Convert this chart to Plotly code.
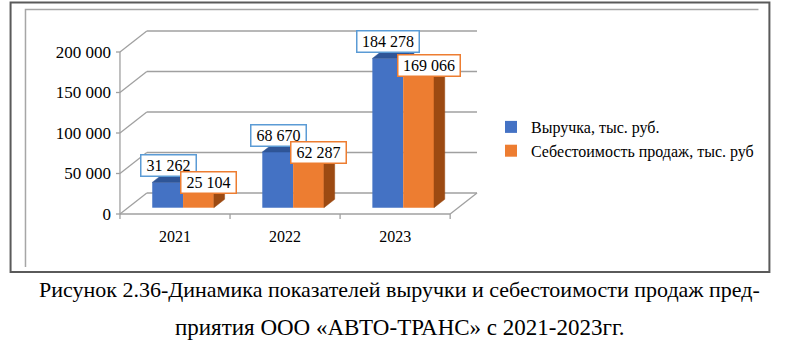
import plotly.graph_objects as go

# ---------------- data ----------------
categories = ["2021", "2022", "2023"]
revenue = [31262, 68670, 184278]
cost = [25104, 62287, 169066]
series_names = ["Выручка, тыс. руб.", "Себестоимость продаж, тыс. руб"]
y_ticks = [0, 50000, 100000, 150000, 200000]
caption_lines = [
    "Рисунок 2.36-Динамика показателей выручки и себестоимости продаж пред-",
    "приятия ООО «АВТО-ТРАНС» с 2021-2023гг.",
]

# ---------------- geometry / style ----------------
W, H = 800, 352
FONT = "'Liberation Serif', 'Times New Roman', Times, serif"
n = len(categories)
YMAX = y_ticks[-1]
UX = 3 / 332.0            # data units per pixel along x (front plane)
UY = YMAX / 162.0         # data units per pixel along y
DX = 27 * UX              # depth offset of back wall (x)
DY = 21 * UY              # depth offset of back wall (y)
F0, F1 = 0.30, 0.70       # bar depth (front, back) as fraction of wall depth
BW = 0.28                 # single bar width in category units

PADL, PADR, PADT, PADB = 6, 2, 2, 7
L = 120 - PADL
R = W - (479 + PADR)
T = 31 - PADT
B = H - (214 + PADB)
PW = W - L - R
PH = H - T - B

FRONT = ["#4472C4", "#ED7D31"]
TOP = ["#2F5597", "#D0661E"]
SIDE = ["#2F5597", "#9C4A12"]
LABEL_BORDER = ["#5B9BD5", "#ED7D31"]
LABEL_SHIFT = [(0.5, 5), (10, -6.5)]
GRID = "#A0A0A0"
CAPTION_SIZE = [22, 23]
CAPTION_Y = [289, 327]


def pxx(px):
    return (px - L) / PW


def pxy(py):
    return (H - B - py) / PH


series = [revenue, cost]
xc = [i + F0 * DX for i in range(n)]
base = F0 * DY
ddx, ddy = (F1 - F0) * DX, (F1 - F0) * DY

fig = go.Figure()

# front faces (bars)
for k, (vals, name) in enumerate(zip(series, series_names)):
    fig.add_trace(go.Bar(
        x=xc, y=vals, base=base, name=name, offsetgroup=str(k),
        marker=dict(color=FRONT[k], line=dict(width=0)),
        hovertemplate="%{x}: %{y}<extra></extra>",
    ))

# side and top faces, computed from the values
for k, vals in enumerate(series):
    tx, ty, sx, sy = [], [], [], []
    for i, v in enumerate(vals):
        xl = xc[i] - BW + k * BW
        xr = xl + BW
        yt = base + v
        tx += [xl, xr, xr + ddx, xl + ddx, xl, None]
        ty += [yt, yt, yt + ddy, yt + ddy, yt, None]
        if k < len(series) - 1:
            ylow = base + min(series[k + 1][i], v)
        else:
            ylow = base
        sx += [xr, xr + ddx, xr + ddx, xr, xr, None]
        sy += [ylow, ylow + ddy, yt + ddy, yt, ylow, None]
    fig.add_trace(go.Scatter(x=sx, y=sy, mode="lines", fill="toself",
                             fillcolor=SIDE[k], line=dict(width=0.5, color=SIDE[k]),
                             showlegend=False, hoverinfo="skip"))
    fig.add_trace(go.Scatter(x=tx, y=ty, mode="lines", fill="toself",
                             fillcolor=TOP[k], line=dict(width=0.5, color=TOP[k]),
                             showlegend=False, hoverinfo="skip"))

# walls, grid, floor, axis lines and ticks (drawn below the bars)
shapes = []
x0, x1 = -0.5, n - 0.5
for t in y_ticks:
    shapes.append(dict(type="line", xref="x", yref="y", layer="below",
                       x0=x0 + DX, y0=t + DY, x1=x1 + DX, y1=t + DY,
                       line=dict(color=GRID, width=1.3)))
    shapes.append(dict(type="line", xref="x", yref="y", layer="below",
                       x0=x0, y0=t, x1=x0 + DX, y1=t + DY,
                       line=dict(color=GRID, width=1.3)))
    shapes.append(dict(type="line", xref="x", yref="y", layer="below",
                       x0=x0 - 4 * UX, y0=t, x1=x0, y1=t,
                       line=dict(color=GRID, width=1.3)))
shapes.append(dict(type="line", xref="x", yref="y", layer="below",
                   x0=x0, y0=0, x1=x1, y1=0, line=dict(color=GRID, width=1.3)))
shapes.append(dict(type="line", xref="x", yref="y", layer="below",
                   x0=x1, y0=0, x1=x1 + DX, y1=DY, line=dict(color=GRID, width=1.3)))
shapes.append(dict(type="line", xref="x", yref="y", layer="below",
                   x0=x0, y0=0, x1=x0, y1=YMAX, line=dict(color=GRID, width=1.3)))
for i in range(n + 1):
    xb = i - 0.5
    shapes.append(dict(type="line", xref="x", yref="y", layer="below",
                       x0=xb, y0=0, x1=xb, y1=-5 * UY, line=dict(color=GRID, width=1.3)))

# frames
shapes.append(dict(type="rect", xref="paper", yref="paper",
                   x0=pxx(10), y0=pxy(272), x1=pxx(773), y1=pxy(2.5),
                   line=dict(color="#5A5A5A", width=2)))
shapes.append(dict(type="path", xref="paper", yref="paper",
                   path=f"M {pxx(25)} {pxy(267)} L {pxx(25)} {pxy(9.5)} L {pxx(762)} {pxy(9.5)}",
                   line=dict(color="#A6A6A6", width=1.5)))

annotations = []
for k, vals in enumerate(series):
    for i, v in enumerate(vals):
        xl = xc[i] - BW + k * BW
        label = f"{v:,}".replace(",", " ")
        annotations.append(dict(
            x=xl + BW / 2, y=base + v, xref="x", yref="y",
            text=label, showarrow=False,
            xanchor="center", yanchor="bottom",
            xshift=LABEL_SHIFT[k][0], yshift=LABEL_SHIFT[k][1],
            width=7 * len(label) + 10, height=18, align="center", valign="middle",
            font=dict(family=FONT, size=16, color="#000000"),
            bgcolor="#FFFFFF", bordercolor=LABEL_BORDER[k],
            borderwidth=1.5, borderpad=1,
        ))

for line, py, fs in zip(caption_lines, CAPTION_Y, CAPTION_SIZE):
    annotations.append(dict(
        x=pxx(401), y=pxy(py), xref="paper", yref="paper", text=line,
        showarrow=False, xanchor="center", yanchor="middle",
        font=dict(family=FONT, size=fs, color="#000000"),
    ))

fig.update_layout(
    width=W, height=H,
    margin=dict(l=L, r=R, t=T, b=B, pad=0),
    paper_bgcolor="#FFFFFF", plot_bgcolor="rgba(0,0,0,0)",
    barmode="group", bargap=0.44, bargroupgap=0,
    separators=", ",
    font=dict(family=FONT, size=16, color="#000000"),
    xaxis=dict(range=[x0 - PADL * UX, x1 + DX + PADR * UX],
               tickmode="array", tickvals=list(range(n)), ticktext=categories,
               ticks="", showgrid=False, zeroline=False, showline=False,
               ticklabelstandoff=4, fixedrange=True,
               tickfont=dict(family=FONT, size=16, color="#000000")),
    yaxis=dict(range=[-PADB * UY, YMAX + DY + PADT * UY],
               tickmode="array", tickvals=y_ticks, tickformat=",d",
               ticks="", showgrid=False, zeroline=False, showline=False,
               ticklabelstandoff=2, fixedrange=True,
               tickfont=dict(family=FONT, size=17, color="#000000")),
    legend=dict(xref="container", yref="container",
                x=491 / W, y=1 - 110 / H, xanchor="left", yanchor="top",
                bgcolor="rgba(0,0,0,0)", borderwidth=0,
                font=dict(family=FONT, size=16, color="#000000"),
                tracegroupgap=0),
    shapes=shapes,
    annotations=annotations,
)

fig.write_html("out.html")
